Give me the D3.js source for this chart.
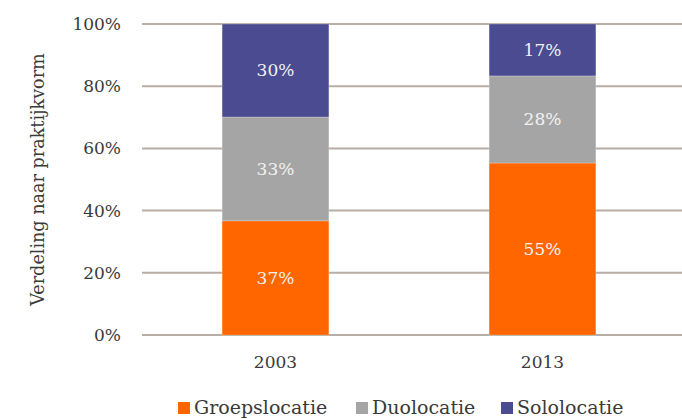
<!DOCTYPE html>
<html>
<head>
<meta charset="utf-8">
<script src="https://cdn.jsdelivr.net/npm/d3@7"></script>
<style>
  body { margin: 0; background: #fff; }
  svg text { font-family: "DejaVu Serif", serif; }
</style>
</head>
<body>
<div id="chart"></div>
<script>
// Data
const years = ['2003', '2013'];
const series = ['Groepslocatie', 'Duolocatie', 'Sololocatie'];
const groep = [36.7, 55.3];
const duo = [33.4, 28.0];
const solo = [29.9, 16.7];
const y_ticks = [0, 20, 40, 60, 80, 100];

const C = {
  width: 682,
  height: 419,
  margin: {left: 142, right: 6, top: 24, bottom: 84},
  colors: ['#ff6600', '#a5a5a5', '#4b4b91'],
  grid_color: '#b8aea3',
  text_color: '#3a3a3a',
  label_color: '#f2f2f2',
};

const rows = years.map((year, i) => ({
  year,
  Groepslocatie: groep[i],
  Duolocatie: duo[i],
  Sololocatie: solo[i],
}));

const svg = d3.select('#chart').append('svg')
  .attr('width', C.width)
  .attr('height', C.height);

const X = d3.scaleBand()
  .domain(years)
  .range([C.margin.left, C.width - C.margin.right])
  .paddingInner(0.6)
  .paddingOuter(0.3);

const Y = d3.scaleLinear()
  .domain([0, 100])
  .range([C.height - C.margin.bottom, C.margin.top]);

const color = d3.scaleOrdinal().domain(series).range(C.colors);

// Gridlines
svg.append('g')
  .selectAll('line')
  .data(y_ticks)
  .join('line')
  .attr('x1', C.margin.left)
  .attr('x2', C.width)
  .attr('y1', d => Y(d))
  .attr('y2', d => Y(d))
  .attr('stroke', C.grid_color)
  .attr('stroke-width', 2);

// Y axis labels
svg.append('g')
  .selectAll('text')
  .data(y_ticks)
  .join('text')
  .attr('x', 121)
  .attr('y', d => Y(d))
  .attr('dy', '0.35em')
  .attr('text-anchor', 'end')
  .attr('font-size', 17)
  .attr('fill', C.text_color)
  .text(d => d + '%');

// Y axis title
svg.append('text')
  .attr('transform', `translate(38,${(Y(0) + Y(100)) / 2}) rotate(-90)`)
  .attr('dy', '0.35em')
  .attr('text-anchor', 'middle')
  .attr('font-size', 17.6)
  .attr('fill', C.text_color)
  .text('Verdeling naar praktijkvorm');

// Stacked bars
const stacked = d3.stack().keys(series)(rows);
const fmt = d3.format('.0f');

const layers = svg.append('g')
  .selectAll('g')
  .data(stacked)
  .join('g')
  .attr('fill', d => color(d.key));

layers.selectAll('rect')
  .data(d => d)
  .join('rect')
  .attr('x', d => X(d.data.year))
  .attr('width', X.bandwidth())
  .attr('y', d => Y(d[1]))
  .attr('height', d => Y(d[0]) - Y(d[1]))
  .attr('stroke', '#ffffff')
  .attr('stroke-opacity', 0.4)
  .attr('stroke-width', 0.6);

layers.selectAll('text')
  .data(d => d.map(v => Object.assign({key: d.key}, v)))
  .join('text')
  .attr('x', d => X(d.data.year) + X.bandwidth() / 2)
  .attr('y', d => Y((d[0] + d[1]) / 2))
  .attr('dy', '0.35em')
  .attr('text-anchor', 'middle')
  .attr('font-size', 17)
  .attr('fill', C.label_color)
  .text(d => fmt(d.data[d.key]) + '%');

// X axis labels
svg.append('g')
  .selectAll('text')
  .data(years)
  .join('text')
  .attr('x', d => X(d) + X.bandwidth() / 2)
  .attr('y', 362)
  .attr('dy', '0.35em')
  .attr('text-anchor', 'middle')
  .attr('font-size', 17)
  .attr('fill', C.text_color)
  .text(d => d);

// Legend
const legend_x = [178, 356, 501];
const legend = svg.append('g')
  .selectAll('g')
  .data(series)
  .join('g')
  .attr('transform', (d, i) => `translate(${legend_x[i]},402)`);

legend.append('rect')
  .attr('width', 12)
  .attr('height', 12)
  .attr('fill', d => color(d));

legend.append('text')
  .attr('x', 16)
  .attr('y', 12)
  .attr('font-size', 19)
  .attr('fill', C.text_color)
  .text(d => d);
</script>
</body>
</html>
